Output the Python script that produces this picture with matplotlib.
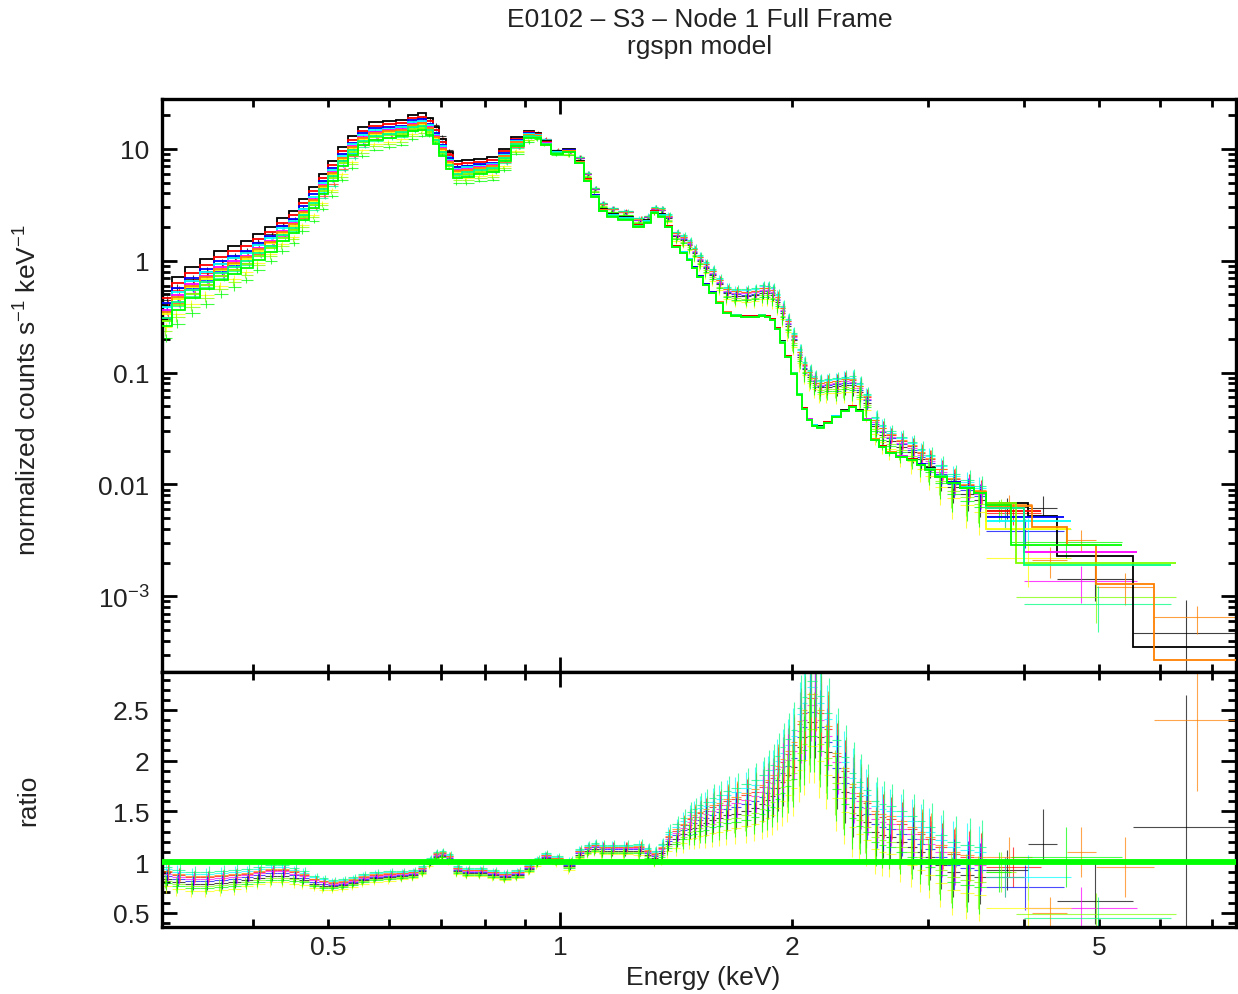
import numpy as np
import matplotlib
matplotlib.use("Agg")
import matplotlib.pyplot as plt
from matplotlib.ticker import FixedLocator, FixedFormatter, NullFormatter

# ---------------- data ----------------
# bin centres (keV) of the common binning
energy = [0.309, 0.319, 0.334, 0.348, 0.364, 0.379, 0.393, 0.406, 0.423, 0.437,
          0.453, 0.464, 0.481, 0.493, 0.507, 0.523, 0.539, 0.555, 0.576, 0.602,
          0.624, 0.645, 0.664, 0.678, 0.690, 0.703, 0.718, 0.735, 0.757, 0.788,
          0.821, 0.848, 0.880, 0.914, 0.934, 0.956, 0.991, 1.030, 1.061, 1.087,
          1.110, 1.134, 1.168, 1.214, 1.270, 1.300, 1.328, 1.356, 1.380, 1.418,
          1.445, 1.474, 1.495, 1.519, 1.545, 1.579, 1.610, 1.646, 1.690, 1.747,
          1.790, 1.833, 1.860, 1.888, 1.915, 1.945, 1.975, 2.006, 2.048, 2.075,
          2.110, 2.140, 2.174, 2.220, 2.285, 2.340, 2.398, 2.450, 2.497, 2.572,
          2.620, 2.678, 2.770, 2.868, 2.940, 3.016, 3.120, 3.234, 3.380, 3.504]
# model of the top (black) data set, counts s^-1 keV^-1
model_top = [0.54, 0.72, 0.88, 1.04, 1.22, 1.36, 1.50, 1.74, 2.00, 2.42,
             2.79, 3.57, 4.57, 5.97, 7.8, 10.4, 13.1, 15.7, 17.4, 17.8,
             18.3, 20.3, 20.8, 19.0, 15.7, 12.3, 9.4, 7.8, 8.0, 8.2,
             8.4, 10.0, 12.8, 14.5, 14.0, 11.8, 9.6, 10.0, 7.8, 5.4,
             3.9, 2.9, 2.6, 2.45, 2.1, 2.3, 2.8, 2.6, 2.04, 1.35,
             1.20, 1.04, 0.88, 0.73, 0.62, 0.525, 0.43, 0.35, 0.33, 0.32,
             0.32, 0.33, 0.32, 0.30, 0.25, 0.19, 0.14, 0.10, 0.065, 0.048,
             0.0386, 0.034, 0.033, 0.036, 0.041, 0.046, 0.050, 0.046, 0.0386, 0.0256,
             0.022, 0.0196, 0.018, 0.0168, 0.0152, 0.0139, 0.012, 0.0105, 0.0095, 0.0086]
# gap (dex) between the top and the lowest data set models
spread = [0.32, 0.30, 0.28, 0.27, 0.26, 0.25, 0.24, 0.23, 0.22, 0.21,
          0.20, 0.19, 0.19, 0.18, 0.18, 0.17, 0.17, 0.16, 0.16, 0.15,
          0.15, 0.15, 0.15, 0.15, 0.15, 0.15, 0.15, 0.15, 0.15, 0.14,
          0.13, 0.11, 0.08, 0.06, 0.05, 0.04, 0.03, 0.03, 0.02, 0.02,
          0.02, 0.02, 0.02, 0.02, 0.02, 0.02, 0.02, 0.02, 0.01, 0.01,
          0.01, 0.01, 0.01, 0.01, 0.01, 0.01, 0.01, 0.01, 0.01, 0.01,
          0.01, 0.01, 0.01, 0.01, 0.01, 0.01, 0.01, 0.01, 0.01, 0.01,
          0.01, 0.01, 0.01, 0.01, 0.01, 0.01, 0.01, 0.01, 0.01, 0.01,
          0.01, 0.01, 0.01, 0.01, 0.01, 0.01, 0.01, 0.01, 0.01, 0.01]
# data / model ratio (centre of the cloud in the lower panel)
ratio_mean = [0.85, 0.82, 0.80, 0.80, 0.81, 0.82, 0.84, 0.86, 0.88, 0.88,
              0.86, 0.84, 0.80, 0.78, 0.77, 0.78, 0.80, 0.83, 0.85, 0.86,
              0.87, 0.88, 0.92, 1.00, 1.06, 1.07, 1.04, 0.92, 0.90, 0.90,
              0.88, 0.86, 0.88, 0.94, 1.00, 1.05, 1.02, 0.97, 1.08, 1.12,
              1.14, 1.12, 1.12, 1.12, 1.12, 1.08, 1.05, 1.10, 1.20, 1.25,
              1.30, 1.35, 1.37, 1.40, 1.42, 1.45, 1.47, 1.50, 1.52, 1.55,
              1.58, 1.62, 1.66, 1.70, 1.78, 1.85, 1.92, 2.00, 2.20, 2.30,
              2.45, 2.45, 2.30, 2.15, 1.90, 1.75, 1.60, 1.52, 1.45, 1.35,
              1.32, 1.30, 1.25, 1.20, 1.15, 1.10, 1.02, 0.95, 0.92, 0.90]
# spread of the ratios between data sets
ratio_scatter = [0.10, 0.10, 0.10, 0.10, 0.10, 0.10, 0.09, 0.09, 0.09, 0.09,
                 0.08, 0.07, 0.06, 0.06, 0.05, 0.05, 0.05, 0.05, 0.05, 0.05,
                 0.04, 0.04, 0.04, 0.04, 0.04, 0.04, 0.04, 0.04, 0.04, 0.04,
                 0.04, 0.04, 0.04, 0.04, 0.04, 0.04, 0.04, 0.05, 0.05, 0.05,
                 0.05, 0.05, 0.05, 0.05, 0.06, 0.06, 0.06, 0.08, 0.10, 0.12,
                 0.13, 0.14, 0.15, 0.16, 0.17, 0.18, 0.19, 0.20, 0.21, 0.22,
                 0.23, 0.24, 0.25, 0.26, 0.27, 0.28, 0.29, 0.30, 0.32, 0.33,
                 0.34, 0.34, 0.34, 0.32, 0.30, 0.29, 0.28, 0.27, 0.26, 0.25,
                 0.25, 0.25, 0.25, 0.25, 0.25, 0.25, 0.25, 0.25, 0.25, 0.25]
# 1-sigma error on the ratio
ratio_err = [0.07, 0.07, 0.06, 0.06, 0.06, 0.06, 0.05, 0.05, 0.05, 0.05,
             0.04, 0.04, 0.03, 0.03, 0.03, 0.03, 0.03, 0.03, 0.03, 0.03,
             0.03, 0.03, 0.03, 0.03, 0.03, 0.03, 0.03, 0.03, 0.03, 0.03,
             0.03, 0.03, 0.03, 0.03, 0.03, 0.03, 0.03, 0.04, 0.04, 0.04,
             0.04, 0.05, 0.05, 0.05, 0.05, 0.05, 0.05, 0.06, 0.07, 0.08,
             0.09, 0.10, 0.11, 0.12, 0.13, 0.14, 0.14, 0.15, 0.15, 0.16,
             0.17, 0.18, 0.19, 0.20, 0.22, 0.24, 0.26, 0.28, 0.32, 0.34,
             0.36, 0.36, 0.36, 0.34, 0.32, 0.31, 0.30, 0.28, 0.26, 0.24,
             0.23, 0.22, 0.22, 0.22, 0.22, 0.23, 0.24, 0.25, 0.26, 0.26]

series_colors = ["black", "red", "blue", "cyan", "magenta",
                 "#ffff00", "#ff8000", "#80ff00", "#00ff80", "#00ff00"]
series_frac = [0.0, 0.2, 0.35, 0.45, 0.55, 0.65, 0.6, 0.85, 0.75, 1.0]
series_rshift = [-0.2, 0.5, 0.1, 0.8, 0.3, -0.9, 0.6, -0.4, 1.0, -0.6]
series_xshift = [0.0, 0.3, 0.15, -0.15, 0.45, -0.45, 0.6, -0.6, 0.75, -0.3]

# wide high-energy bins (upper edge, model, ratio, ratio errors) per data set
hi_series = [0, 0, 0, 0, 1, 9, 9, 2, 3, 4, 4, 5, 6, 6, 6, 6, 6, 7, 7, 8, 8]
hi_ehi = [4.05, 4.41, 5.53, 7.60, 4.20, 3.85, 5.35, 4.50, 4.60, 4.00, 5.60,
          4.60, 4.10, 4.55, 4.95, 5.90, 7.60, 3.90, 6.30, 4.00, 6.20]
hi_model = [0.0068, 0.0052, 0.0023, 0.00035, 0.0058, 0.0066, 0.0029, 0.0051,
            0.0047, 0.0062, 0.0025, 0.0040, 0.0064, 0.0042, 0.0029, 0.00128,
            0.00027, 0.0068, 0.0020, 0.0062, 0.0019]
hi_ratio = [0.92, 1.18, 0.62, 1.35, 0.95, 0.90, 1.05, 0.75, 0.85, 0.85, 0.55,
            0.55, 1.05, 0.50, 1.10, 0.95, 2.40, 0.90, 0.49, 0.85, 0.45]
hi_err_lo = [0.20, 0.18, 0.23, 1.00, 0.20, 0.20, 0.30, 0.22, 0.22, 0.20, 0.20,
             0.25, 0.20, 0.15, 0.25, 0.30, 0.70, 0.20, 0.20, 0.20, 0.20]
hi_err_hi = [0.20, 0.34, 0.38, 1.30, 0.20, 0.20, 0.30, 0.22, 0.22, 0.20, 0.20,
             0.25, 0.20, 0.15, 0.25, 0.30, 0.60, 0.20, 0.20, 0.20, 0.20]

title_lines = ["E0102 \u2013 S3 \u2013 Node 1 Full Frame", "rgspn model"]
x_minor = [0.4, 0.5, 0.6, 0.7, 0.8, 0.9, 2, 3, 4, 5, 6, 7]
x_labels = {0.5: "0.5", 2: "2", 5: "5"}

# ---------------- figure ----------------
plt.rcParams["font.family"] = ["Liberation Sans", "DejaVu Sans"]
plt.rcParams["mathtext.fontset"] = "custom"
plt.rcParams["mathtext.rm"] = "Liberation Sans"
plt.rcParams["mathtext.it"] = "Liberation Sans"
TXT = "#222222"

W, H = 1238, 995
fig = plt.figure(figsize=(W / 100, H / 100), dpi=100)
L, R = 162 / W, 1236 / W
ax1 = fig.add_axes([L, 1 - 673 / H, R - L, (673 - 100) / H])
ax2 = fig.add_axes([L, 1 - 928 / H, R - L, (928 - 673) / H], sharex=ax1)

E = np.array(energy)
mtop = np.array(model_top)
spr = np.array(spread)
rm = np.array(ratio_mean)
rsc = np.array(ratio_scatter)
rer = np.array(ratio_err)
mid = np.sqrt(E[:-1] * E[1:])
edges = np.concatenate([[E[0] ** 2 / mid[0]], mid, [E[-1] ** 2 / mid[-1]]])
lo_e, hi_e = edges[:-1], edges[1:]

for s, col in enumerate(series_colors):
    model = mtop * 10 ** (-series_frac[s] * spr)
    ratio = rm + series_rshift[s] * rsc
    # position of the data point inside its bin
    if series_xshift[s] >= 0:
        xc = E * (hi_e / E) ** (series_xshift[s] * 0.5)
    else:
        xc = E * (E / lo_e) ** (series_xshift[s] * 0.5)
    # high-energy bins of this data set
    idx = [i for i, k in enumerate(hi_series) if k == s]
    h_hi = np.array([hi_ehi[i] for i in idx])
    h_lo = np.concatenate([[edges[-1]], h_hi[:-1]])
    h_mod = np.array([hi_model[i] for i in idx])
    h_rat = np.array([hi_ratio[i] for i in idx])
    h_el = np.array([hi_err_lo[i] for i in idx])
    h_eh = np.array([hi_err_hi[i] for i in idx])
    h_c = np.sqrt(h_lo * h_hi)

    xall = np.concatenate([xc, h_c])
    xl = xall - np.concatenate([lo_e, h_lo])
    xr = np.concatenate([hi_e, h_hi]) - xall
    rall = np.concatenate([ratio, h_rat])
    rel = np.concatenate([rer, h_el])
    reh = np.concatenate([rer, h_eh])
    mall = np.concatenate([model, h_mod])

    # upper panel: data and model
    ax1.errorbar(xall, mall * rall, xerr=[xl, xr],
                 yerr=[mall * rel, mall * reh],
                 fmt="none", ecolor=col, elinewidth=0.8, alpha=0.75,
                 capsize=0, zorder=2)
    ax1.stairs(mall, np.concatenate([edges, h_hi]), color=col, lw=1.3,
               baseline=None, zorder=3)
    # lower panel: ratio
    ax2.errorbar(xall, rall, xerr=[xl, xr], yerr=[rel, reh], fmt="none",
                 ecolor=col, elinewidth=0.8, alpha=0.7, capsize=0, zorder=2)

ax2.axhline(1.0, color="#00ff00", lw=4.2, zorder=5)

# ---------------- axes styling ----------------
ax1.set_xscale("log")
ax1.set_yscale("log")
ax1.set_xlim(0.3046, 7.53)
ax1.set_ylim(2.10e-4, 28.0)
ax2.set_ylim(0.359, 2.874)

for ax in (ax1, ax2):
    for sp in ax.spines.values():
        sp.set_linewidth(2.4)
    ax.tick_params(which="both", direction="in", top=True, right=True,
                   width=2.0, labelsize=19, pad=9, labelcolor=TXT)
    ax.tick_params(which="major", length=11)
    ax.tick_params(which="minor", length=6)
    ax.xaxis.set_major_locator(FixedLocator([1.0]))
    ax.xaxis.set_minor_locator(FixedLocator(x_minor))

ax1.yaxis.set_major_locator(FixedLocator([1e-3, 1e-2, 1e-1, 1, 10]))
ax1.yaxis.set_major_formatter(FixedFormatter(["10$^{-3}$", "0.01", "0.1", "1", "10"]))
ax1.yaxis.set_minor_locator(FixedLocator(
    [m * 10.0 ** d for d in range(-4, 2) for m in range(2, 10)]))
ax1.yaxis.set_minor_formatter(NullFormatter())
ax1.tick_params(axis="x", which="both", labelbottom=False)

ax2.yaxis.set_major_locator(FixedLocator([0.5, 1.0, 1.5, 2.0, 2.5]))
ax2.yaxis.set_major_formatter(FixedFormatter(["0.5", "1", "1.5", "2", "2.5"]))
ax2.yaxis.set_minor_locator(FixedLocator([round(0.4 + 0.1 * i, 2) for i in range(26)]))
ax2.yaxis.set_minor_formatter(NullFormatter())
ax2.xaxis.set_major_formatter(FixedFormatter(["1"]))
ax2.xaxis.set_minor_formatter(FixedFormatter([x_labels.get(v, "") for v in x_minor]))
ax2.tick_params(axis="x", which="both", pad=6)

fs = 19
fig.text(700 / W, 1 - 20 / H, title_lines[0], ha="center", va="center", fontsize=fs, color=TXT)
fig.text(700 / W, 1 - 47 / H, title_lines[1], ha="center", va="center", fontsize=fs, color=TXT)
fig.text(28 / W, 1 - 390 / H, "normalized counts s$^{-1}$ keV$^{-1}$", rotation=90,
         ha="center", va="center", fontsize=fs, color=TXT)
fig.text(28 / W, 1 - 800 / H, "ratio", rotation=90, ha="center", va="center",
         fontsize=fs, color=TXT)
fig.text(703 / W, 1 - 978 / H, "Energy (keV)", ha="center", va="center",
         fontsize=fs, color=TXT)

fig.savefig("out.png", dpi=100)
